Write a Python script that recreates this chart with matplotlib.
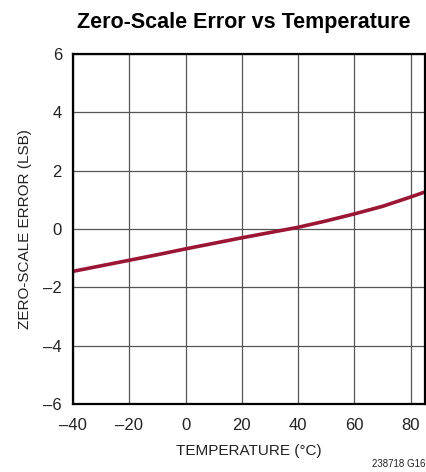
import matplotlib
matplotlib.use("Agg")
import matplotlib.pyplot as plt

plt.rcParams['font.family'] = ['Liberation Sans', 'DejaVu Sans']

# data
temperature = [-40, -30, -20, -10, 0, 10, 20, 30, 40, 50, 60, 70, 80, 85]
zs_error = [-1.45, -1.26, -1.07, -0.88, -0.68, -0.49, -0.30, -0.12, 0.06, 0.28, 0.52, 0.78, 1.10, 1.27]

xticks = [-40, -20, 0, 20, 40, 60, 80]
yticks = [-6, -4, -2, 0, 2, 4, 6]

fig = plt.figure(figsize=(4.27, 4.72), dpi=100)
ax = fig.add_axes([0.171, 0.144, 0.824, 0.7415])

ax.plot(temperature, zs_error, color='#9b1535', linewidth=2.6)

ax.set_xlim(-40, 85)
ax.set_ylim(-6, 6)
ax.set_xticks(xticks)
ax.set_yticks(yticks)
ax.set_xticklabels([str(t).replace('-', '\u2013') for t in xticks])
ax.set_yticklabels([str(t).replace('-', '\u2013') for t in yticks])
ax.tick_params(length=0, labelsize=12, colors='#222222')
ax.tick_params(axis='x', pad=10)
ax.tick_params(axis='y', pad=8)
ax.grid(True, color='#555555', linewidth=0.9)
for s in ax.spines.values():
    s.set_linewidth(1.6)
    s.set_color('black')

ax.set_xlabel('TEMPERATURE (°C)', fontsize=11, color='#222222', labelpad=8)
ax.set_ylabel('ZERO-SCALE ERROR (LSB)', fontsize=11, color='#222222', labelpad=8)
fig.text(0.57, 0.953, 'Zero-Scale Error vs Temperature', ha='center', va='center',
         fontsize=15.5, fontweight='bold')
fig.text(0.997, 0.006, '238718 G16', ha='right', va='bottom', fontsize=7, color='#222222')

fig.savefig('out.png', dpi=100)
